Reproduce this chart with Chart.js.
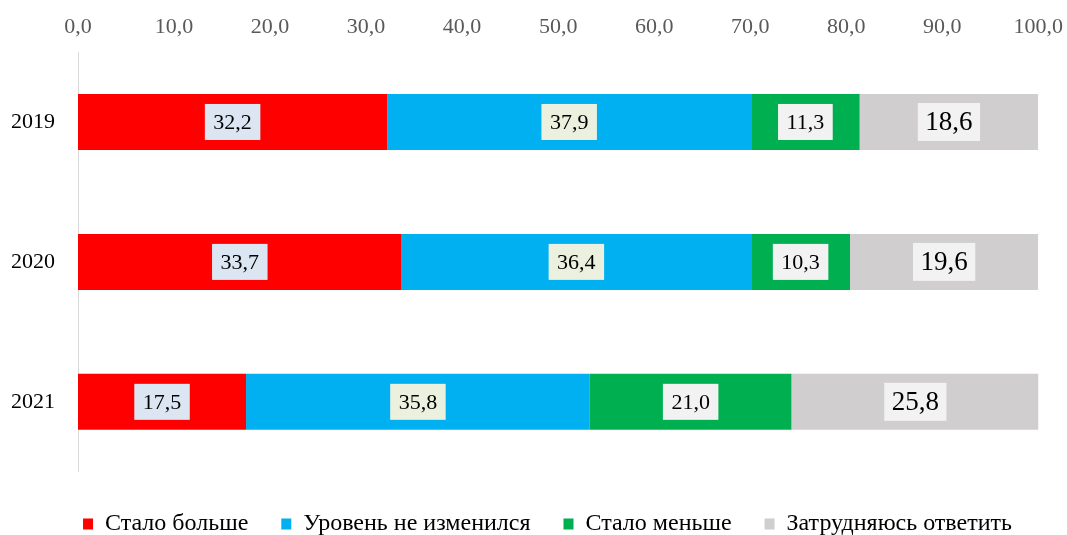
<!DOCTYPE html>
<html>
<head>
<meta charset="utf-8">
<script src="https://cdn.jsdelivr.net/npm/chart.js@4"></script>
<style>
  html, body { margin: 0; padding: 0; background: #fff; }
  #wrap { width: 1067px; height: 535px; }
</style>
</head>
<body>
<div id="wrap"><canvas id="chart"></canvas></div>
<script>
// Data
const years = ['2019', '2020', '2021'];
const seriesNames = ['Стало больше', 'Уровень не изменился', 'Стало меньше', 'Затрудняюсь ответить'];
const moreValues = [32.2, 33.7, 17.5];
const sameValues = [37.9, 36.4, 35.8];
const lessValues = [11.3, 10.3, 21.0];
const hardValues = [18.6, 19.6, 25.8];

const barColors = ['#ff0000', '#00b0f0', '#00b050', '#d0cece'];
const labelBoxColors = ['#dce6f2', '#ebf1de', '#f2f2f2', '#f2f2f2'];
const labelFontSizes = [22, 22, 22, 27];
const serif = '"Liberation Serif", "Times New Roman", serif';

const fmt = v => v.toFixed(1).replace('.', ',');

// draws the value boxes in the middle of each bar segment
const valueBoxes = {
    id: 'valueBoxes',
    afterDatasetsDraw(chart) {
        const ctx = chart.ctx;
        chart.data.datasets.forEach((ds, i) => {
            const meta = chart.getDatasetMeta(i);
            meta.data.forEach((bar, j) => {
                const text = fmt(ds.data[j]);
                const cx = (bar.x + bar.base) / 2;
                const cy = bar.y;
                const big = labelFontSizes[i] > 22;
                ctx.save();
                ctx.font = labelFontSizes[i] + 'px ' + serif;
                const w = ctx.measureText(text).width + (big ? 15 : 17);
                const h = big ? 38 : 36;
                ctx.fillStyle = labelBoxColors[i];
                ctx.fillRect(cx - w / 2, cy - h / 2, w, h);
                ctx.fillStyle = '#000';
                ctx.textAlign = 'center';
                ctx.textBaseline = 'middle';
                ctx.fillText(text, cx, cy + 1);
                ctx.restore();
            });
        });
    }
};

// legend sits a bit right of centre in the original
const legendNudge = {
    id: 'legendNudge',
    afterLayout(chart) {
        if (chart.legend) {
            chart.legend.left += 14;
            chart.legend.right += 14;
        }
    }
};

const allValues = [moreValues, sameValues, lessValues, hardValues];

new Chart(document.getElementById('chart'), {
    type: 'bar',
    data: {
        labels: years,
        datasets: seriesNames.map((name, i) => ({
            label: name,
            data: allValues[i],
            backgroundColor: barColors[i],
            borderWidth: 0,
            barPercentage: 0.5,
            categoryPercentage: 0.8
        }))
    },
    options: {
        indexAxis: 'y',
        responsive: true,
        maintainAspectRatio: false,
        animation: false,
        layout: { padding: { left: 0, right: 0, top: 8, bottom: -11 } },
        scales: {
            x: {
                position: 'top',
                stacked: true,
                min: 0,
                max: 100,
                ticks: {
                    stepSize: 10,
                    color: '#595959',
                    padding: 4,
                    font: { family: serif, size: 22 },
                    callback: v => fmt(v)
                },
                grid: { display: false },
                border: { display: false },
                afterFit: s => { s.height = 44; }
            },
            y: {
                stacked: true,
                ticks: {
                    color: '#000',
                    padding: 15,
                    font: { family: serif, size: 22 }
                },
                grid: { display: false },
                border: { display: true, color: '#d9d9d9', width: 1 },
                afterFit: s => { s.width = 78; }
            }
        },
        plugins: {
            legend: {
                position: 'bottom',
                // blank title only pushes the legend row down a little
                title: { display: true, text: ' ', padding: 3, font: { size: 1 } },
                labels: {
                    boxWidth: 10,
                    boxHeight: 11,
                    padding: 33,
                    color: '#000',
                    font: { family: serif, size: 24 }
                }
            },
            tooltip: { enabled: false }
        }
    },
    plugins: [valueBoxes, legendNudge]
});
</script>
</body>
</html>
